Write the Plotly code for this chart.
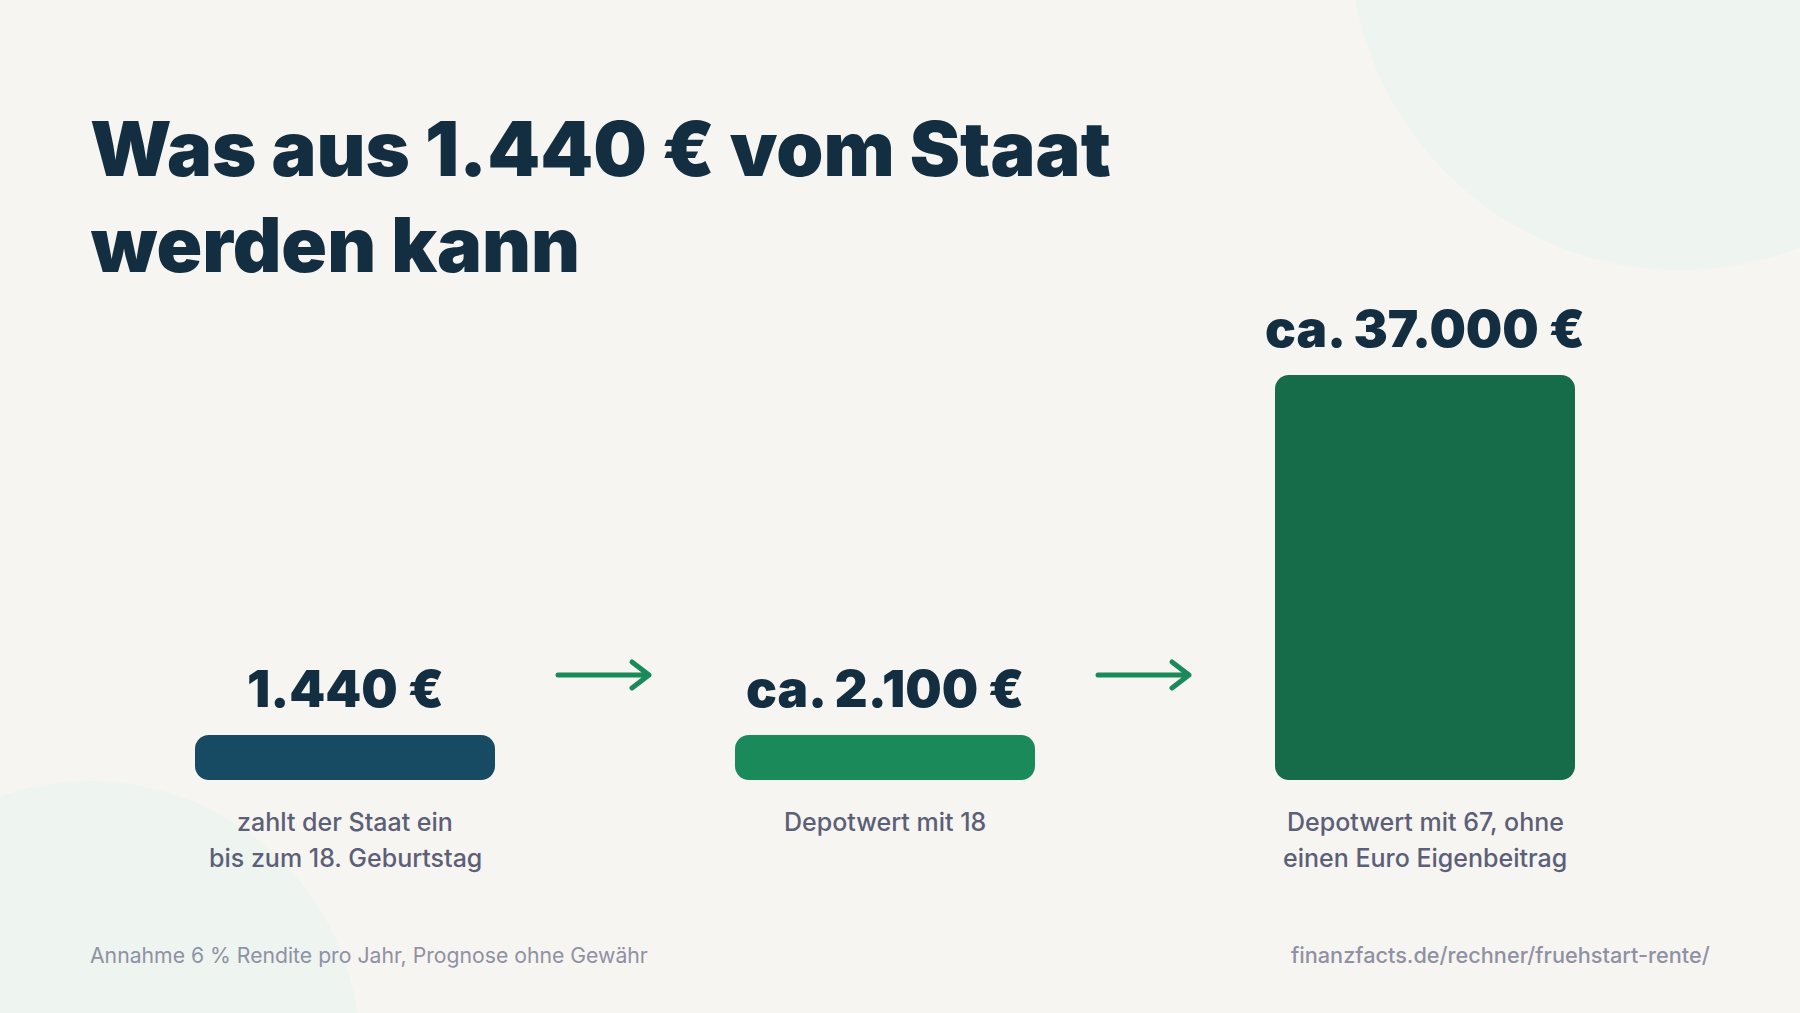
import plotly.graph_objects as go

W, H = 1800, 1013
L, R, T, B = 75, 105, 375, 233

# ---- data ----
categories = ["Staat", "Depot 18", "Depot 67"]
values = [1440, 2100, 37000]
value_labels = ["1.440 €", "ca. 2.100 €", "ca. 37.000 €"]
caption_line1 = ["zahlt der Staat ein", "Depotwert mit 18", "Depotwert mit 67, ohne"]
caption_line2 = ["bis zum 18. Geburtstag", "", "einen Euro Eigenbeitrag"]
title_lines = ["Was aus 1.440 € vom Staat", "werden kann"]
source_left = "Annahme 6 % Rendite pro Jahr, Prognose ohne Gewähr"
source_right = "finanzfacts.de/rechner/fruehstart-rente/"
# the small bars are shown at a minimum height (1/9 of the largest), as in the picture
min_drawn = max(values) / 9
drawn = [max(v, min_drawn) for v in values]

bar_colors = ["#174A63", "#1B8A5A", "#166C48"]
NAVY = "#122E40"
CAPTION = "#5B6078"
FOOT = "#8F91A4"
BG = "#F7F5F1"
BLOB = "#EEF4EF"
GREEN = "#1B8A5A"
TITLE_FONT = "Inter"
BODY_FONT = "Inter"


def px(x):
    return (x - L) / (W - L - R)


def py(y):
    return ((H - B) - y) / (H - T - B)


# an explicit base makes Plotly round all four corners of a bar
fig = go.Figure(go.Bar(x=categories, base=[0, 0, 0], y=drawn,
                       marker=dict(color=bar_colors, line_width=0, cornerradius=14),
                       width=300 / 540, hoverinfo="skip"))

shapes = []
for cx, cy, r in [(1680, -60, 330), (90, 1051, 270)]:
    shapes.append(dict(type="circle", xref="paper", yref="paper", layer="below",
                       x0=px(cx - r), x1=px(cx + r), y0=py(cy + r), y1=py(cy - r),
                       fillcolor=BLOB, line_width=0))

for x0 in (558, 1098):
    path = (f"M {px(x0)} {py(675)} L {px(x0 + 91)} {py(675)} "
            f"M {px(x0 + 74)} {py(662)} L {px(x0 + 91)} {py(675)} L {px(x0 + 74)} {py(688)}")
    shapes.append(dict(type="path", xref="paper", yref="paper", path=path,
                       fillcolor="rgba(0,0,0,0)", line=dict(color=GREEN, width=5)))

ann = []
for line, baseline in zip(title_lines, (177, 273)):
    ann.append(dict(xref="paper", yref="paper", x=px(88.5), y=py(baseline + 18), xanchor="left", yanchor="bottom",
                    align="left", showarrow=False, text=line, borderpad=0,
                    font=dict(family=TITLE_FONT, size=75.5, color=NAVY, weight=900)))
for cat, d, lab, c1, c2 in zip(categories, drawn, value_labels, caption_line1, caption_line2):
    ann.append(dict(x=cat, y=d, xref="x", yref="y", yanchor="bottom", yshift=14, showarrow=False,
                    text=lab, font=dict(family=TITLE_FONT, size=51.3, color=NAVY, weight=900)))
    for line, shift in ((c1, -24.5), (c2, -60.5)):
        if line:
            ann.append(dict(x=cat, y=0, xref="x", yref="y", yanchor="top", yshift=shift, showarrow=False,
                            text=line, font=dict(family=BODY_FONT, size=25, color=CAPTION, weight=500)))
ann.append(dict(xref="paper", yref="paper", x=px(88), y=py(955), xanchor="left", yanchor="middle",
                showarrow=False, text=source_left, font=dict(family=BODY_FONT, size=21.2, color=FOOT)))
ann.append(dict(xref="paper", yref="paper", x=px(1712), y=py(955), xanchor="right", yanchor="middle",
                showarrow=False, text=source_right, font=dict(family=BODY_FONT, size=21.7, color=FOOT, weight=500)))

fig.update_layout(
    width=W, height=H, autosize=False, paper_bgcolor=BG, plot_bgcolor="rgba(0,0,0,0)",
    margin=dict(l=L, r=R, t=T, b=B), showlegend=False,
    xaxis=dict(visible=False, type="category", range=[-0.5, 2.5], categoryorder="array", categoryarray=categories),
    yaxis=dict(visible=False, range=[0, 37000]),
    shapes=shapes, annotations=ann,
)
fig.write_html("out.html", config={"displayModeBar": False},
               post_script="document.body.style.margin='0';document.querySelectorAll('.shapelayer path').forEach(p=>{p.style.strokeLinecap='round';p.style.strokeLinejoin='round';});")
